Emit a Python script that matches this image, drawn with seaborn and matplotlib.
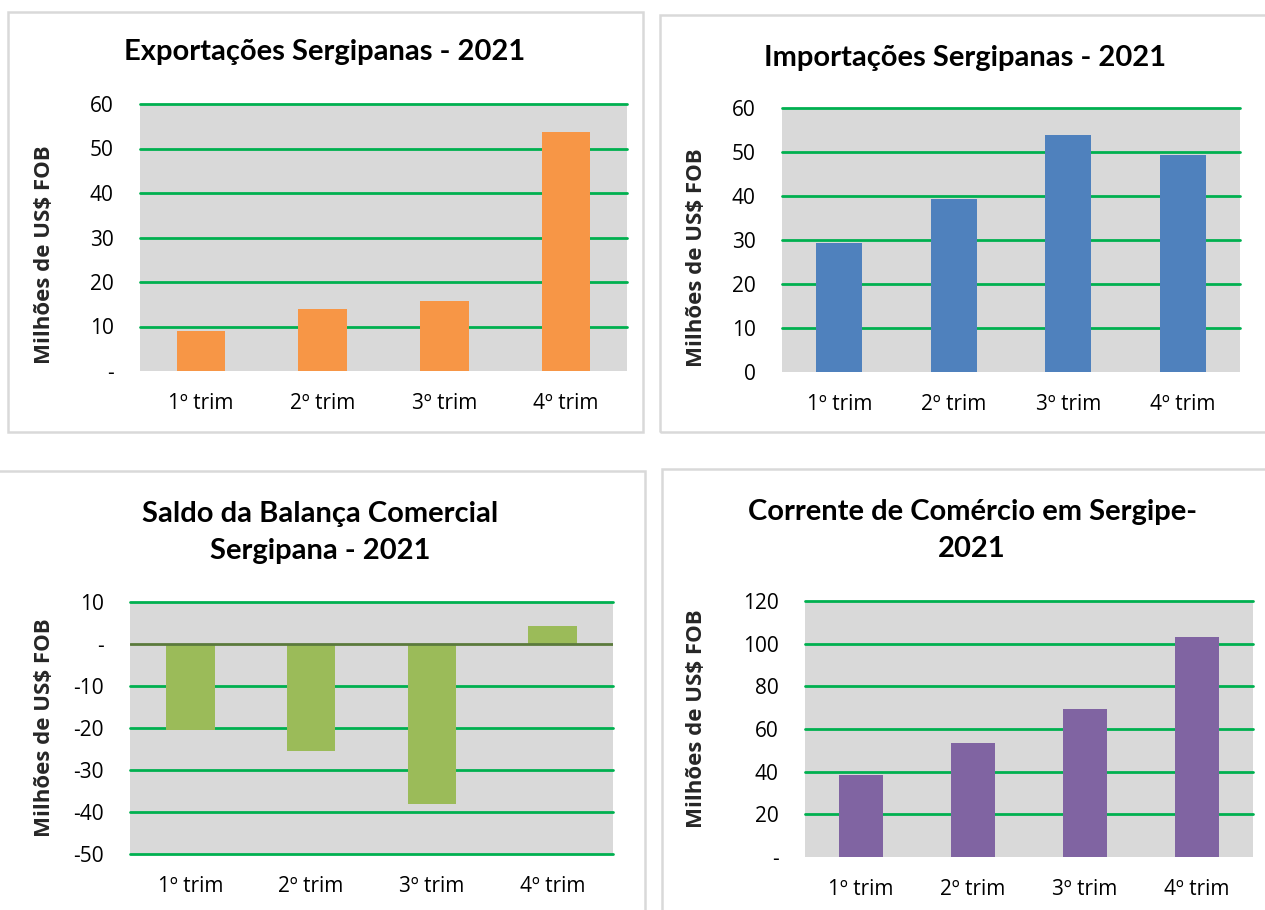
import numpy as np
import pandas as pd
import matplotlib
matplotlib.use("Agg")
import matplotlib.pyplot as plt
from matplotlib.patches import Rectangle
import seaborn as sns

# Valores em milhões de US$ FOB
TRIMESTRES = ["1º trim", "2º trim", "3º trim", "4º trim"]
EXPORTACOES = [8.9, 13.9, 15.8, 53.7]
IMPORTACOES = [29.4, 39.4, 53.8, 49.3]
SALDO = [-20.5, -25.5, -38.0, 4.4]
CORRENTE = [38.3, 53.3, 69.6, 103.0]

TICKS_EXP = [0, 10, 20, 30, 40, 50, 60]
LABELS_EXP = ["-", "10", "20", "30", "40", "50", "60"]
TICKS_IMP = [0, 10, 20, 30, 40, 50, 60]
LABELS_IMP = ["0", "10", "20", "30", "40", "50", "60"]
TICKS_SALDO = [-50, -40, -30, -20, -10, 0, 10]
LABELS_SALDO = ["-50", "-40", "-30", "-20", "-10", "-", "10"]
TICKS_CORR = [0, 20, 40, 60, 80, 100, 120]
LABELS_CORR = ["-", "20", "40", "60", "80", "100", "120"]

W, H = 1265, 910
GRID_GREEN = "#00b050"
BOX_GRAY = "#d9d9d9"
PLOT_BG = "#d9d9d9"
YLABEL = "Milhões de US$ FOB"

sns.set_style("white")
plt.rcParams["font.family"] = ["Open Sans", "DejaVu Sans"]

fig = plt.figure(figsize=(W / 100, H / 100), dpi=100)


def fx(x):
    return x / W


def fy(y):
    return 1 - y / H


def panel_box(x0, y0, x1, y1):
    fig.add_artist(Rectangle((fx(x0), fy(y1)), (x1 - x0) / W, (y1 - y0) / H,
                             transform=fig.transFigure, fill=False,
                             edgecolor=BOX_GRAY, lw=1.8))


def bar_panel(rect, values, color, ticks, labels, title_lines, title_xy,
              ylabel_xy, zero_line=False):
    left, top, right, bottom = rect
    ax = fig.add_axes([fx(left), fy(bottom), (right - left) / W, (bottom - top) / H])
    ax.set_facecolor(PLOT_BG)
    df = pd.DataFrame({"trim": TRIMESTRES, "valor": values})
    sns.barplot(data=df, x="trim", y="valor", color=color, saturation=1,
                width=0.4, ax=ax, zorder=2, linewidth=0)
    ax.set_xlim(-0.5, 3.5)
    ax.set_ylim(ticks[0], ticks[-1])
    ax.set_yticks(ticks)
    ax.set_yticklabels(labels)
    for t in ticks:
        if t == 0:
            continue
        ax.axhline(t, color=GRID_GREEN, lw=2, zorder=1, clip_on=False)
    if zero_line:
        ax.axhline(0, color="#5b7a3c", lw=2, zorder=3)
    for s in ax.spines.values():
        s.set_visible(False)
    ax.tick_params(axis="y", length=0, pad=19, labelsize=15, labelcolor="black")
    ax.tick_params(axis="x", length=0, pad=16, labelsize=15, labelcolor="black")
    ax.set_xlabel("")
    ax.set_ylabel("")
    tx, ty = title_xy
    for i, line in enumerate(title_lines):
        fig.text(fx(tx), fy(ty + 37 * i), line, ha="center", va="center",
                 fontsize=21, fontweight="bold", family="Lato", color="black")
    lx, ly = ylabel_xy
    fig.text(fx(lx), fy(ly), YLABEL, rotation=90, ha="center", va="center",
             fontsize=16, fontweight="bold")
    return ax


panel_box(8, 12, 643, 432)
panel_box(660, 15, 1275, 432)
panel_box(-5, 471, 645, 920)
panel_box(662, 469, 1275, 920)

bar_panel((140, 104, 627, 371), EXPORTACOES, "#f79646", TICKS_EXP, LABELS_EXP,
          ["Exportações Sergipanas - 2021"], (325, 52), (45, 255))
bar_panel((782, 108, 1240, 372), IMPORTACOES, "#4f81bd", TICKS_IMP, LABELS_IMP,
          ["Importações Sergipanas - 2021"], (965, 58), (697, 258))
bar_panel((130, 602, 613, 854), SALDO, "#9bbb59", TICKS_SALDO, LABELS_SALDO,
          ["Saldo da Balança Comercial", "Sergipana - 2021"], (320, 514), (45, 728),
          zero_line=True)
bar_panel((805, 601, 1253, 857), CORRENTE, "#8064a2", TICKS_CORR, LABELS_CORR,
          ["Corrente de Comércio em Sergipe-", "2021"], (972, 512), (697, 719))

fig.savefig("out.png", dpi=100)
